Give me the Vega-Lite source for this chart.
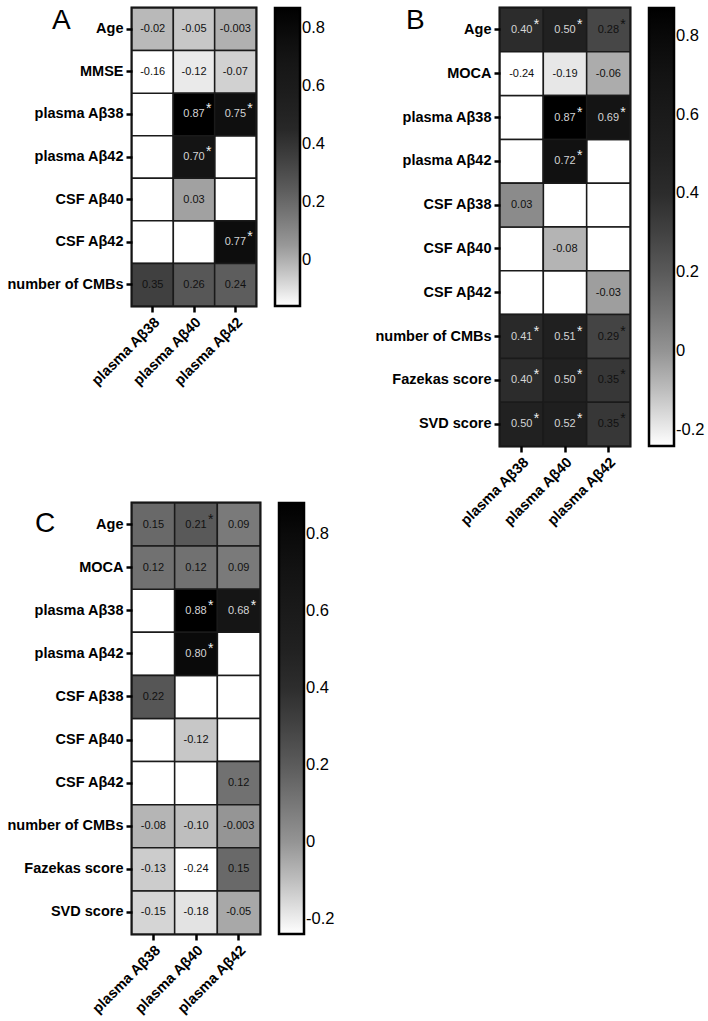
{
  "$schema": "https://vega.github.io/schema/vega-lite/v6.json",
  "background": "white",
  "padding": {"left": 5, "top": 5, "right": 0, "bottom": 0},
  "config": {
    "view": {"stroke": "black", "strokeWidth": 3},
    "axis": {"domain": false, "labelFont": "Liberation Sans", "labelFontWeight": "bold", "labelFontSize": 14.5, "labelColor": "black", "tickColor": "black", "tickWidth": 2.5, "tickSize": 6, "labelPadding": 3, "title": null},
    "axisX": {"labelAngle": -45},
    "title": {"font": "Liberation Sans", "fontSize": 28, "fontWeight": "normal", "anchor": "start", "frame": "group", "baseline": "alphabetic", "color": "black"},
    "legend": {"gradientThickness": 25, "gradientStrokeColor": "black", "gradientStrokeWidth": 2.5, "labelFont": "Liberation Sans", "labelFontSize": 16.5, "labelColor": "black", "offset": 19, "labelOffset": 7, "direction": "vertical"}
  },
  "datasets": {
    "A": [
      {"row": "Age", "col": "plasma Aβ38", "r": -0.02, "label": "-0.02", "sig": false},
      {"row": "Age", "col": "plasma Aβ40", "r": -0.05, "label": "-0.05", "sig": false},
      {"row": "Age", "col": "plasma Aβ42", "r": -0.003, "label": "-0.003", "sig": false},
      {"row": "MMSE", "col": "plasma Aβ38", "r": -0.16, "label": "-0.16", "sig": false},
      {"row": "MMSE", "col": "plasma Aβ40", "r": -0.12, "label": "-0.12", "sig": false},
      {"row": "MMSE", "col": "plasma Aβ42", "r": -0.07, "label": "-0.07", "sig": false},
      {"row": "plasma Aβ38", "col": "plasma Aβ38", "r": null, "label": "", "sig": false},
      {"row": "plasma Aβ38", "col": "plasma Aβ40", "r": 0.87, "label": "0.87", "sig": true},
      {"row": "plasma Aβ38", "col": "plasma Aβ42", "r": 0.75, "label": "0.75", "sig": true},
      {"row": "plasma Aβ42", "col": "plasma Aβ38", "r": null, "label": "", "sig": false},
      {"row": "plasma Aβ42", "col": "plasma Aβ40", "r": 0.70, "label": "0.70", "sig": true},
      {"row": "plasma Aβ42", "col": "plasma Aβ42", "r": null, "label": "", "sig": false},
      {"row": "CSF Aβ40", "col": "plasma Aβ38", "r": null, "label": "", "sig": false},
      {"row": "CSF Aβ40", "col": "plasma Aβ40", "r": 0.03, "label": "0.03", "sig": false},
      {"row": "CSF Aβ40", "col": "plasma Aβ42", "r": null, "label": "", "sig": false},
      {"row": "CSF Aβ42", "col": "plasma Aβ38", "r": null, "label": "", "sig": false},
      {"row": "CSF Aβ42", "col": "plasma Aβ40", "r": null, "label": "", "sig": false},
      {"row": "CSF Aβ42", "col": "plasma Aβ42", "r": 0.77, "label": "0.77", "sig": true},
      {"row": "number of CMBs", "col": "plasma Aβ38", "r": 0.35, "label": "0.35", "sig": false},
      {"row": "number of CMBs", "col": "plasma Aβ40", "r": 0.26, "label": "0.26", "sig": false},
      {"row": "number of CMBs", "col": "plasma Aβ42", "r": 0.24, "label": "0.24", "sig": false}
    ],
    "B": [
      {"row": "Age", "col": "plasma Aβ38", "r": 0.40, "label": "0.40", "sig": true},
      {"row": "Age", "col": "plasma Aβ40", "r": 0.50, "label": "0.50", "sig": true},
      {"row": "Age", "col": "plasma Aβ42", "r": 0.28, "label": "0.28", "sig": true},
      {"row": "MOCA", "col": "plasma Aβ38", "r": -0.24, "label": "-0.24", "sig": false},
      {"row": "MOCA", "col": "plasma Aβ40", "r": -0.19, "label": "-0.19", "sig": false},
      {"row": "MOCA", "col": "plasma Aβ42", "r": -0.06, "label": "-0.06", "sig": false},
      {"row": "plasma Aβ38", "col": "plasma Aβ38", "r": null, "label": "", "sig": false},
      {"row": "plasma Aβ38", "col": "plasma Aβ40", "r": 0.87, "label": "0.87", "sig": true},
      {"row": "plasma Aβ38", "col": "plasma Aβ42", "r": 0.69, "label": "0.69", "sig": true},
      {"row": "plasma Aβ42", "col": "plasma Aβ38", "r": null, "label": "", "sig": false},
      {"row": "plasma Aβ42", "col": "plasma Aβ40", "r": 0.72, "label": "0.72", "sig": true},
      {"row": "plasma Aβ42", "col": "plasma Aβ42", "r": null, "label": "", "sig": false},
      {"row": "CSF Aβ38", "col": "plasma Aβ38", "r": 0.03, "label": "0.03", "sig": false},
      {"row": "CSF Aβ38", "col": "plasma Aβ40", "r": null, "label": "", "sig": false},
      {"row": "CSF Aβ38", "col": "plasma Aβ42", "r": null, "label": "", "sig": false},
      {"row": "CSF Aβ40", "col": "plasma Aβ38", "r": null, "label": "", "sig": false},
      {"row": "CSF Aβ40", "col": "plasma Aβ40", "r": -0.08, "label": "-0.08", "sig": false},
      {"row": "CSF Aβ40", "col": "plasma Aβ42", "r": null, "label": "", "sig": false},
      {"row": "CSF Aβ42", "col": "plasma Aβ38", "r": null, "label": "", "sig": false},
      {"row": "CSF Aβ42", "col": "plasma Aβ40", "r": null, "label": "", "sig": false},
      {"row": "CSF Aβ42", "col": "plasma Aβ42", "r": -0.03, "label": "-0.03", "sig": false},
      {"row": "number of CMBs", "col": "plasma Aβ38", "r": 0.41, "label": "0.41", "sig": true},
      {"row": "number of CMBs", "col": "plasma Aβ40", "r": 0.51, "label": "0.51", "sig": true},
      {"row": "number of CMBs", "col": "plasma Aβ42", "r": 0.29, "label": "0.29", "sig": true},
      {"row": "Fazekas score", "col": "plasma Aβ38", "r": 0.40, "label": "0.40", "sig": true},
      {"row": "Fazekas score", "col": "plasma Aβ40", "r": 0.50, "label": "0.50", "sig": true},
      {"row": "Fazekas score", "col": "plasma Aβ42", "r": 0.35, "label": "0.35", "sig": true},
      {"row": "SVD score", "col": "plasma Aβ38", "r": 0.50, "label": "0.50", "sig": true},
      {"row": "SVD score", "col": "plasma Aβ40", "r": 0.52, "label": "0.52", "sig": true},
      {"row": "SVD score", "col": "plasma Aβ42", "r": 0.35, "label": "0.35", "sig": true}
    ],
    "C": [
      {"row": "Age", "col": "plasma Aβ38", "r": 0.15, "label": "0.15", "sig": false},
      {"row": "Age", "col": "plasma Aβ40", "r": 0.21, "label": "0.21", "sig": true},
      {"row": "Age", "col": "plasma Aβ42", "r": 0.09, "label": "0.09", "sig": false},
      {"row": "MOCA", "col": "plasma Aβ38", "r": 0.12, "label": "0.12", "sig": false},
      {"row": "MOCA", "col": "plasma Aβ40", "r": 0.12, "label": "0.12", "sig": false},
      {"row": "MOCA", "col": "plasma Aβ42", "r": 0.09, "label": "0.09", "sig": false},
      {"row": "plasma Aβ38", "col": "plasma Aβ38", "r": null, "label": "", "sig": false},
      {"row": "plasma Aβ38", "col": "plasma Aβ40", "r": 0.88, "label": "0.88", "sig": true},
      {"row": "plasma Aβ38", "col": "plasma Aβ42", "r": 0.68, "label": "0.68", "sig": true},
      {"row": "plasma Aβ42", "col": "plasma Aβ38", "r": null, "label": "", "sig": false},
      {"row": "plasma Aβ42", "col": "plasma Aβ40", "r": 0.80, "label": "0.80", "sig": true},
      {"row": "plasma Aβ42", "col": "plasma Aβ42", "r": null, "label": "", "sig": false},
      {"row": "CSF Aβ38", "col": "plasma Aβ38", "r": 0.22, "label": "0.22", "sig": false},
      {"row": "CSF Aβ38", "col": "plasma Aβ40", "r": null, "label": "", "sig": false},
      {"row": "CSF Aβ38", "col": "plasma Aβ42", "r": null, "label": "", "sig": false},
      {"row": "CSF Aβ40", "col": "plasma Aβ38", "r": null, "label": "", "sig": false},
      {"row": "CSF Aβ40", "col": "plasma Aβ40", "r": -0.12, "label": "-0.12", "sig": false},
      {"row": "CSF Aβ40", "col": "plasma Aβ42", "r": null, "label": "", "sig": false},
      {"row": "CSF Aβ42", "col": "plasma Aβ38", "r": null, "label": "", "sig": false},
      {"row": "CSF Aβ42", "col": "plasma Aβ40", "r": null, "label": "", "sig": false},
      {"row": "CSF Aβ42", "col": "plasma Aβ42", "r": 0.12, "label": "0.12", "sig": false},
      {"row": "number of CMBs", "col": "plasma Aβ38", "r": -0.08, "label": "-0.08", "sig": false},
      {"row": "number of CMBs", "col": "plasma Aβ40", "r": -0.10, "label": "-0.10", "sig": false},
      {"row": "number of CMBs", "col": "plasma Aβ42", "r": -0.003, "label": "-0.003", "sig": false},
      {"row": "Fazekas score", "col": "plasma Aβ38", "r": -0.13, "label": "-0.13", "sig": false},
      {"row": "Fazekas score", "col": "plasma Aβ40", "r": -0.24, "label": "-0.24", "sig": false},
      {"row": "Fazekas score", "col": "plasma Aβ42", "r": 0.15, "label": "0.15", "sig": false},
      {"row": "SVD score", "col": "plasma Aβ38", "r": -0.15, "label": "-0.15", "sig": false},
      {"row": "SVD score", "col": "plasma Aβ40", "r": -0.18, "label": "-0.18", "sig": false},
      {"row": "SVD score", "col": "plasma Aβ42", "r": -0.05, "label": "-0.05", "sig": false}
    ]
  },
  "resolve": {"scale": {"color": "independent"}, "legend": {"color": "independent"}},
  "spacing": 36,
  "hconcat": [
    {
      "resolve": {"scale": {"color": "independent"}, "legend": {"color": "independent"}},
      "spacing": 110,
      "vconcat": [
        {
          "data": {"name": "A"},
          "width": 124,
          "height": 298,
          "title": {"text": "A", "dx": -80, "offset": -28},
          "encoding": {
            "x": {"field": "col", "type": "nominal", "sort": ["plasma Aβ38", "plasma Aβ40", "plasma Aβ42"]},
            "y": {"field": "row", "type": "nominal", "sort": ["Age", "MMSE", "plasma Aβ38", "plasma Aβ42", "CSF Aβ40", "CSF Aβ42", "number of CMBs"]}
          },
          "layer": [
            {"mark": {"type": "rect", "fill": "white", "stroke": "#1a1a1a", "strokeWidth": 1.5}},
            {
              "transform": [{"filter": "isValid(datum.r)"}],
              "mark": {"type": "rect", "stroke": "#1a1a1a", "strokeWidth": 1.5},
              "encoding": {"color": {"field": "r", "type": "quantitative",
                "scale": {"domain": [-0.16, 0.046, 0.252, 0.458, 0.87], "range": ["#ffffff", "#999999", "#595959", "#262626", "#000000"]},
                "legend": {"title": null, "values": [0, 0.2, 0.4, 0.6, 0.8], "gradientLength": 298, "labelExpr": "datum.value < 0 ? '-' + format(-datum.value, '.1~f') : format(datum.value, '.1~f')"}}}
            },
            {
              "transform": [{"filter": "isValid(datum.r)"}],
              "mark": {"type": "text", "font": "Liberation Sans", "fontSize": 11},
              "encoding": {"text": {"field": "label"}, "color": {"condition": {"test": "datum.r > 0.38", "value": "#d4d4d4"}, "value": "#111111"}}
            },
            {
              "transform": [{"filter": "datum.sig"}],
              "mark": {"type": "text", "text": "*", "font": "Liberation Sans", "fontSize": 14, "align": "left", "dx": 12, "dy": -5},
              "encoding": {"color": {"condition": {"test": "datum.r > 0.38", "value": "#eeeeee"}, "value": "#111111"}}
            }
          ]
        },
        {
          "data": {"name": "C"},
          "width": 128,
          "height": 431,
          "title": {"text": "C", "dx": -97, "offset": -36},
          "encoding": {
            "x": {"field": "col", "type": "nominal", "sort": ["plasma Aβ38", "plasma Aβ40", "plasma Aβ42"]},
            "y": {"field": "row", "type": "nominal", "sort": ["Age", "MOCA", "plasma Aβ38", "plasma Aβ42", "CSF Aβ38", "CSF Aβ40", "CSF Aβ42", "number of CMBs", "Fazekas score", "SVD score"]}
          },
          "layer": [
            {"mark": {"type": "rect", "fill": "white", "stroke": "#1a1a1a", "strokeWidth": 1.5}},
            {
              "transform": [{"filter": "isValid(datum.r)"}],
              "mark": {"type": "rect", "stroke": "#1a1a1a", "strokeWidth": 1.5},
              "encoding": {"color": {"field": "r", "type": "quantitative",
                "scale": {"domain": [-0.24, -0.016, 0.208, 0.432, 0.88], "range": ["#ffffff", "#999999", "#595959", "#262626", "#000000"]},
                "legend": {"title": null, "values": [-0.2, 0, 0.2, 0.4, 0.6, 0.8], "gradientLength": 431, "labelExpr": "datum.value < 0 ? '-' + format(-datum.value, '.1~f') : format(datum.value, '.1~f')"}}}
            },
            {
              "transform": [{"filter": "isValid(datum.r)"}],
              "mark": {"type": "text", "font": "Liberation Sans", "fontSize": 11},
              "encoding": {"text": {"field": "label"}, "color": {"condition": {"test": "datum.r > 0.38", "value": "#d4d4d4"}, "value": "#111111"}}
            },
            {
              "transform": [{"filter": "datum.sig"}],
              "mark": {"type": "text", "text": "*", "font": "Liberation Sans", "fontSize": 14, "align": "left", "dx": 12, "dy": -5},
              "encoding": {"color": {"condition": {"test": "datum.r > 0.38", "value": "#eeeeee"}, "value": "#111111"}}
            }
          ]
        }
      ]
    },
    {
      "data": {"name": "B"},
      "width": 130,
      "height": 438,
      "title": {"text": "B", "dx": -94, "offset": -28},
      "encoding": {
        "x": {"field": "col", "type": "nominal", "sort": ["plasma Aβ38", "plasma Aβ40", "plasma Aβ42"]},
        "y": {"field": "row", "type": "nominal", "sort": ["Age", "MOCA", "plasma Aβ38", "plasma Aβ42", "CSF Aβ38", "CSF Aβ40", "CSF Aβ42", "number of CMBs", "Fazekas score", "SVD score"]}
      },
      "layer": [
        {"mark": {"type": "rect", "fill": "white", "stroke": "#1a1a1a", "strokeWidth": 1.5}},
        {
          "transform": [{"filter": "isValid(datum.r)"}],
          "mark": {"type": "rect", "stroke": "#1a1a1a", "strokeWidth": 1.5},
          "encoding": {"color": {"field": "r", "type": "quantitative",
            "scale": {"domain": [-0.24, -0.018, 0.204, 0.426, 0.87], "range": ["#ffffff", "#999999", "#595959", "#262626", "#000000"]},
            "legend": {"title": null, "values": [-0.2, 0, 0.2, 0.4, 0.6, 0.8], "gradientLength": 438, "labelExpr": "datum.value < 0 ? '-' + format(-datum.value, '.1~f') : format(datum.value, '.1~f')"}}}
        },
        {
          "transform": [{"filter": "isValid(datum.r)"}],
          "mark": {"type": "text", "font": "Liberation Sans", "fontSize": 11},
          "encoding": {"text": {"field": "label"}, "color": {"condition": {"test": "datum.r > 0.38", "value": "#d4d4d4"}, "value": "#111111"}}
        },
        {
          "transform": [{"filter": "datum.sig"}],
          "mark": {"type": "text", "text": "*", "font": "Liberation Sans", "fontSize": 14, "align": "left", "dx": 12, "dy": -5},
          "encoding": {"color": {"condition": {"test": "datum.r > 0.38", "value": "#eeeeee"}, "value": "#111111"}}
        }
      ]
    }
  ]
}
